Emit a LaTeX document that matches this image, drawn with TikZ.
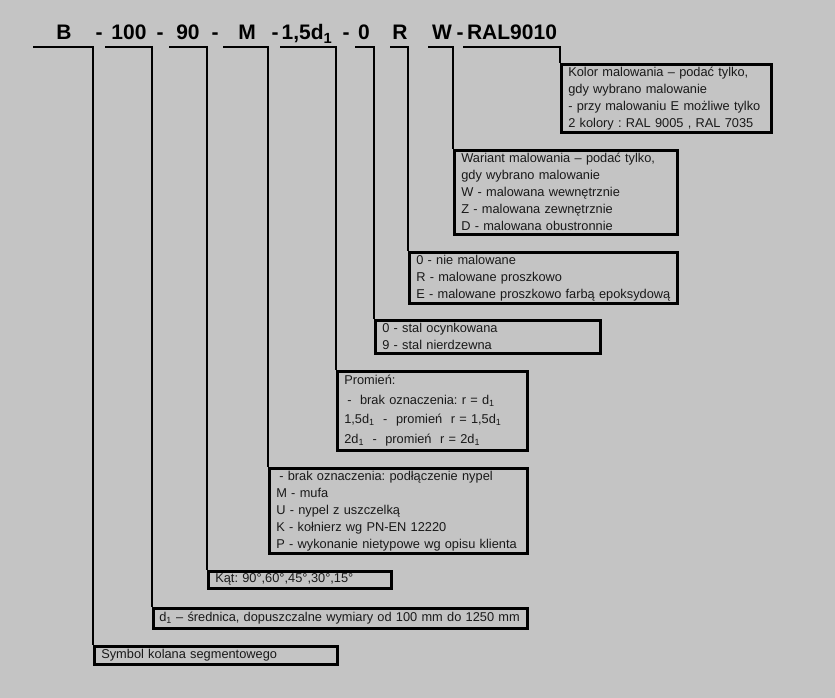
\documentclass[tikz,border=0pt]{standalone}
\usepackage{fontspec}
\setmainfont{Liberation Sans}
\usetikzlibrary{positioning,calc}
\definecolor{tlo}{RGB}{196,196,196}
\definecolor{tekst}{RGB}{25,25,25}
\frenchspacing

\begin{document}
\begin{tikzpicture}[x=1pt, y=-1pt, line width=2.6pt,
    opis/.style={rectangle, draw, anchor=north west, align=left, text=tekst, inner xsep=7pt, inner ysep=0pt, font=\fontsize{12.8}{17}\selectfont},
    znak/.style={anchor=base, font=\fontsize{21}{24}\selectfont\bfseries}]
  \fill[tlo] (0,0) rectangle (835,698);

  % oznaczenie
  \node[znak] (sB) at (64,40) {B};
  \node[znak] (k1) at (99,40) {-};
  \node[znak] (s100) at (129,40) {100};
  \node[znak] (k2) at (160,40) {-};
  \node[znak] (s90) at (188,40) {90};
  \node[znak] (k3) at (215,40) {-};
  \node[znak] (sM) at (247,40) {M};
  \node[znak] (k4) at (275,40) {-};
  \node[znak] (sPr) at (307,40) {1,5d\textsubscript{1}};
  \node[znak] (k5) at (346,40) {-};
  \node[znak] (s0) at (364,40) {0};
  \node[znak] (sR) at (400,40) {R};
  \node[znak] (sW) at (442,40) {W};
  \node[znak] (k6) at (460,40) {-};
  \node[znak] (sRAL) at (512,40) {RAL9010};

  \coordinate (uB) at (33,47);
  \coordinate (u100) at (105,47);
  \coordinate (u90) at (169,47);
  \coordinate (uM) at (223,47);
  \coordinate (uPr) at (280,47);
  \coordinate (u0) at (355,47);
  \coordinate (uR) at (390,47);
  \coordinate (uW) at (428,47);
  \coordinate (uRAL) at (463,47);

  % opisy
  \node[opis, text width=196pt, minimum height=68pt] (kolor) at (560,63) {Kolor malowania -- podać tylko,\\gdy wybrano malowanie\\- przy malowaniu E możliwe tylko\\2 kolory : RAL 9005 , RAL 7035};
  \node[opis, text width=209pt, minimum height=84pt] (wariant) at (453,149) {Wariant malowania -- podać tylko,\\gdy wybrano malowanie\\W - malowana wewnętrznie\\Z - malowana zewnętrznie\\D - malowana obustronnie};
  \node[opis, text width=254pt, minimum height=51pt] (malow) at (408,251) {0 - nie malowane\\R - malowane proszkowo\\E - malowane proszkowo farbą epoksydową};
  \node[opis, text width=211pt, minimum height=33pt] (stal) at (374,319) {0 - stal ocynkowana\\9 - stal nierdzewna};
  \node[opis, text width=176pt, minimum height=79pt, font=\fontsize{12.8}{19.5}\selectfont] (promien) at (336,370) {Promień:\\\hspace{3pt}-\ \ brak oznaczenia: r = d\textsubscript{1}\\1,5d\textsubscript{1}\ \ -\ \ promień\ \ r = 1,5d\textsubscript{1}\\2d\textsubscript{1}\ \ -\ \ promień\ \ r = 2d\textsubscript{1}};
  \node[opis, text width=244pt, minimum height=85pt] (przylacze) at (268,467) {\hspace{3pt}- brak oznaczenia: podłączenie nypel\\M - mufa\\U - nypel z uszczelką\\K - kołnierz wg PN-EN 12220\\P - wykonanie nietypowe wg opisu klienta};
  \node[opis, text width=169pt, minimum height=17pt] (kat) at (207,570) {Kąt: 90°,60°,45°,30°,15°};
  \node[opis, text width=362pt, inner xsep=6pt, minimum height=20pt] (srednica) at (152,607) {d\textsubscript{1} -- średnica, dopuszczalne wymiary od 100 mm do 1250 mm};
  \node[opis, text width=229pt, minimum height=18pt] (symbol) at (93,645) {Symbol kolana segmentowego};

  % linie
  \foreach \u/\b in {uB/symbol, u100/srednica, u90/kat, uM/przylacze, uPr/promien, u0/stal, uR/malow, uW/wariant, uRAL/kolor}
    \draw[line join=miter] (\u) -- (\u -| \b.north west) -- (\b.north west);
\end{tikzpicture}
\end{document}
